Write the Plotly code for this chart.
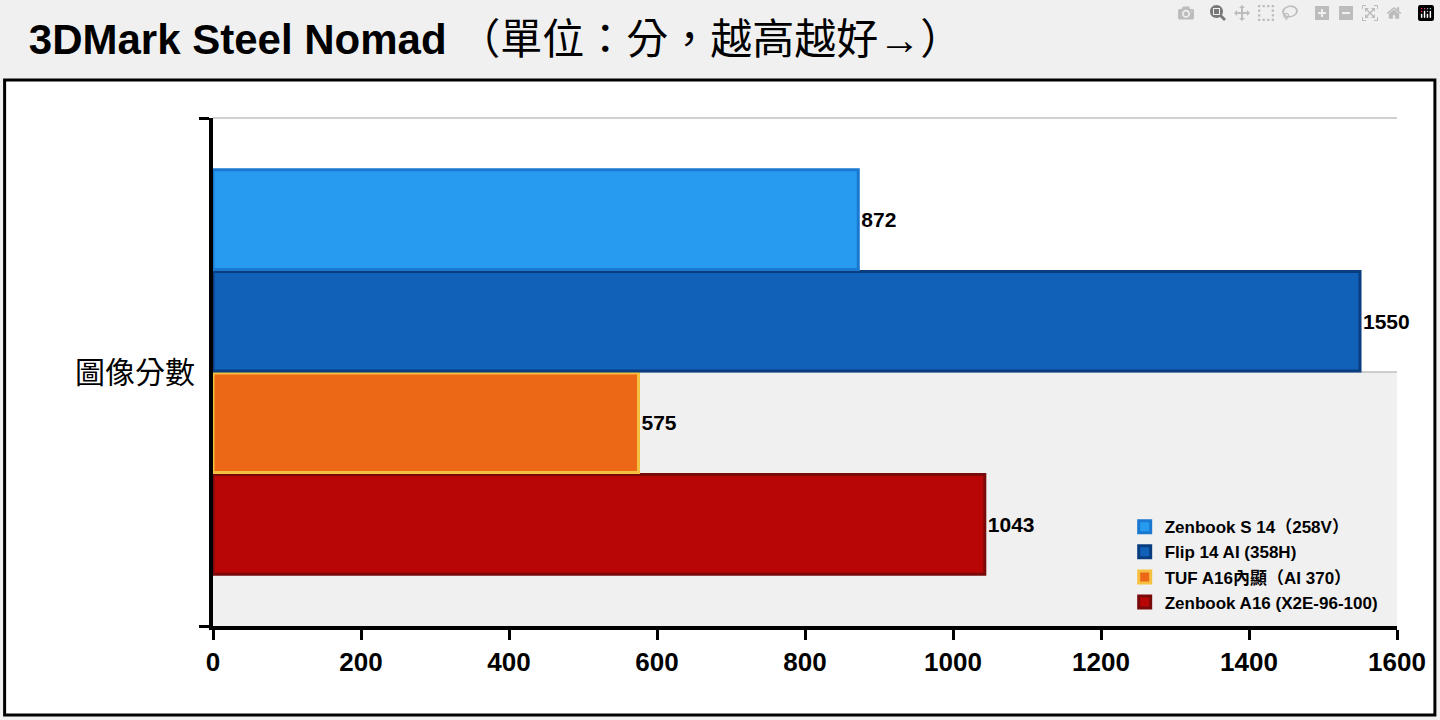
import plotly.graph_objects as go

# 資料
category = ["圖像分數"]
names = ["Zenbook S 14（258V）", "Flip 14 AI (358H)", "TUF A16內顯（AI 370）", "Zenbook A16 (X2E-96-100)"]
scores = [872, 1550, 575, 1043]
fills = ["#279bf0", "#1261b8", "#ec6716", "#b80505"]
borders = ["#1a78d0", "#0a3d80", "#f5c040", "#7a0a0a"]
x_ticks = [0, 200, 400, 600, 800, 1000, 1200, 1400, 1600]

fig = go.Figure()

# 反向加入，讓第一筆顯示在最上方
for i in reversed(range(len(names))):
    fig.add_trace(go.Bar(
        y=category, x=[scores[i]], name=f"<b>{names[i]}</b>", orientation="h",
        marker=dict(color=fills[i], line=dict(color=borders[i], width=3)),
        text=[scores[i]], textposition="outside",
        textfont=dict(size=21, color="black", family="Liberation Sans"),
        texttemplate="<b>%{x}</b>", cliponaxis=False,
    ))

fig.update_layout(
    width=1440, height=720,
    margin=dict(l=213, r=43, t=118, b=94),
    paper_bgcolor="#f0f0f0", plot_bgcolor="rgba(0,0,0,0)",
    barmode="group", bargap=0.2, bargroupgap=0.02,
    font=dict(family="Liberation Sans, Noto Sans CJK TC", color="black"),
    title=dict(text="<b>3DMark Steel Nomad</b> （單位：分，越高越好→）",
               x=0.02, xanchor="left", y=0.945, yanchor="middle",
               font=dict(size=42, family="Liberation Sans, Noto Sans CJK TC")),
    legend=dict(x=0.77, y=0.23, xanchor="left", yanchor="top", traceorder="reversed",
                bgcolor="rgba(0,0,0,0)", font=dict(size=17), itemwidth=30,
                tracegroupgap=0),
    showlegend=True,
)

fig.update_xaxes(range=[0, 1600], tickvals=x_ticks, ticktext=[f"<b>{t}</b>" for t in x_ticks],
                 tickfont=dict(size=26), showgrid=False, zeroline=False,
                 showline=True, linecolor="black", linewidth=4,
                 ticks="outside", ticklen=10, tickwidth=3, tickcolor="black")
fig.update_yaxes(showline=True, linecolor="black", linewidth=4, tickson="boundaries",
                 ticks="outside", ticklen=10, tickwidth=3, tickcolor="black",
                 ticklabelstandoff=8,
                 tickfont=dict(size=30, family="Noto Sans CJK TC"), showgrid=False)

# 外框與背景
fig.add_shape(type="rect", xref="paper", yref="paper", x0=-0.176, x1=1.032, y0=-0.175, y1=1.075,
              fillcolor="white", line=dict(color="black", width=3), layer="below")
fig.add_shape(type="rect", xref="paper", yref="paper", x0=0, x1=1, y0=0, y1=0.5,
              fillcolor="#f0f0f0", line=dict(width=0), layer="below")
for yy in [0.5, 1.0]:
    fig.add_shape(type="line", xref="paper", yref="paper", x0=0, x1=1, y0=yy, y1=yy,
                  line=dict(color="#c0c0c0", width=1.5), layer="below")

fig.write_html("out.html", post_script="document.body.style.margin='0';")
